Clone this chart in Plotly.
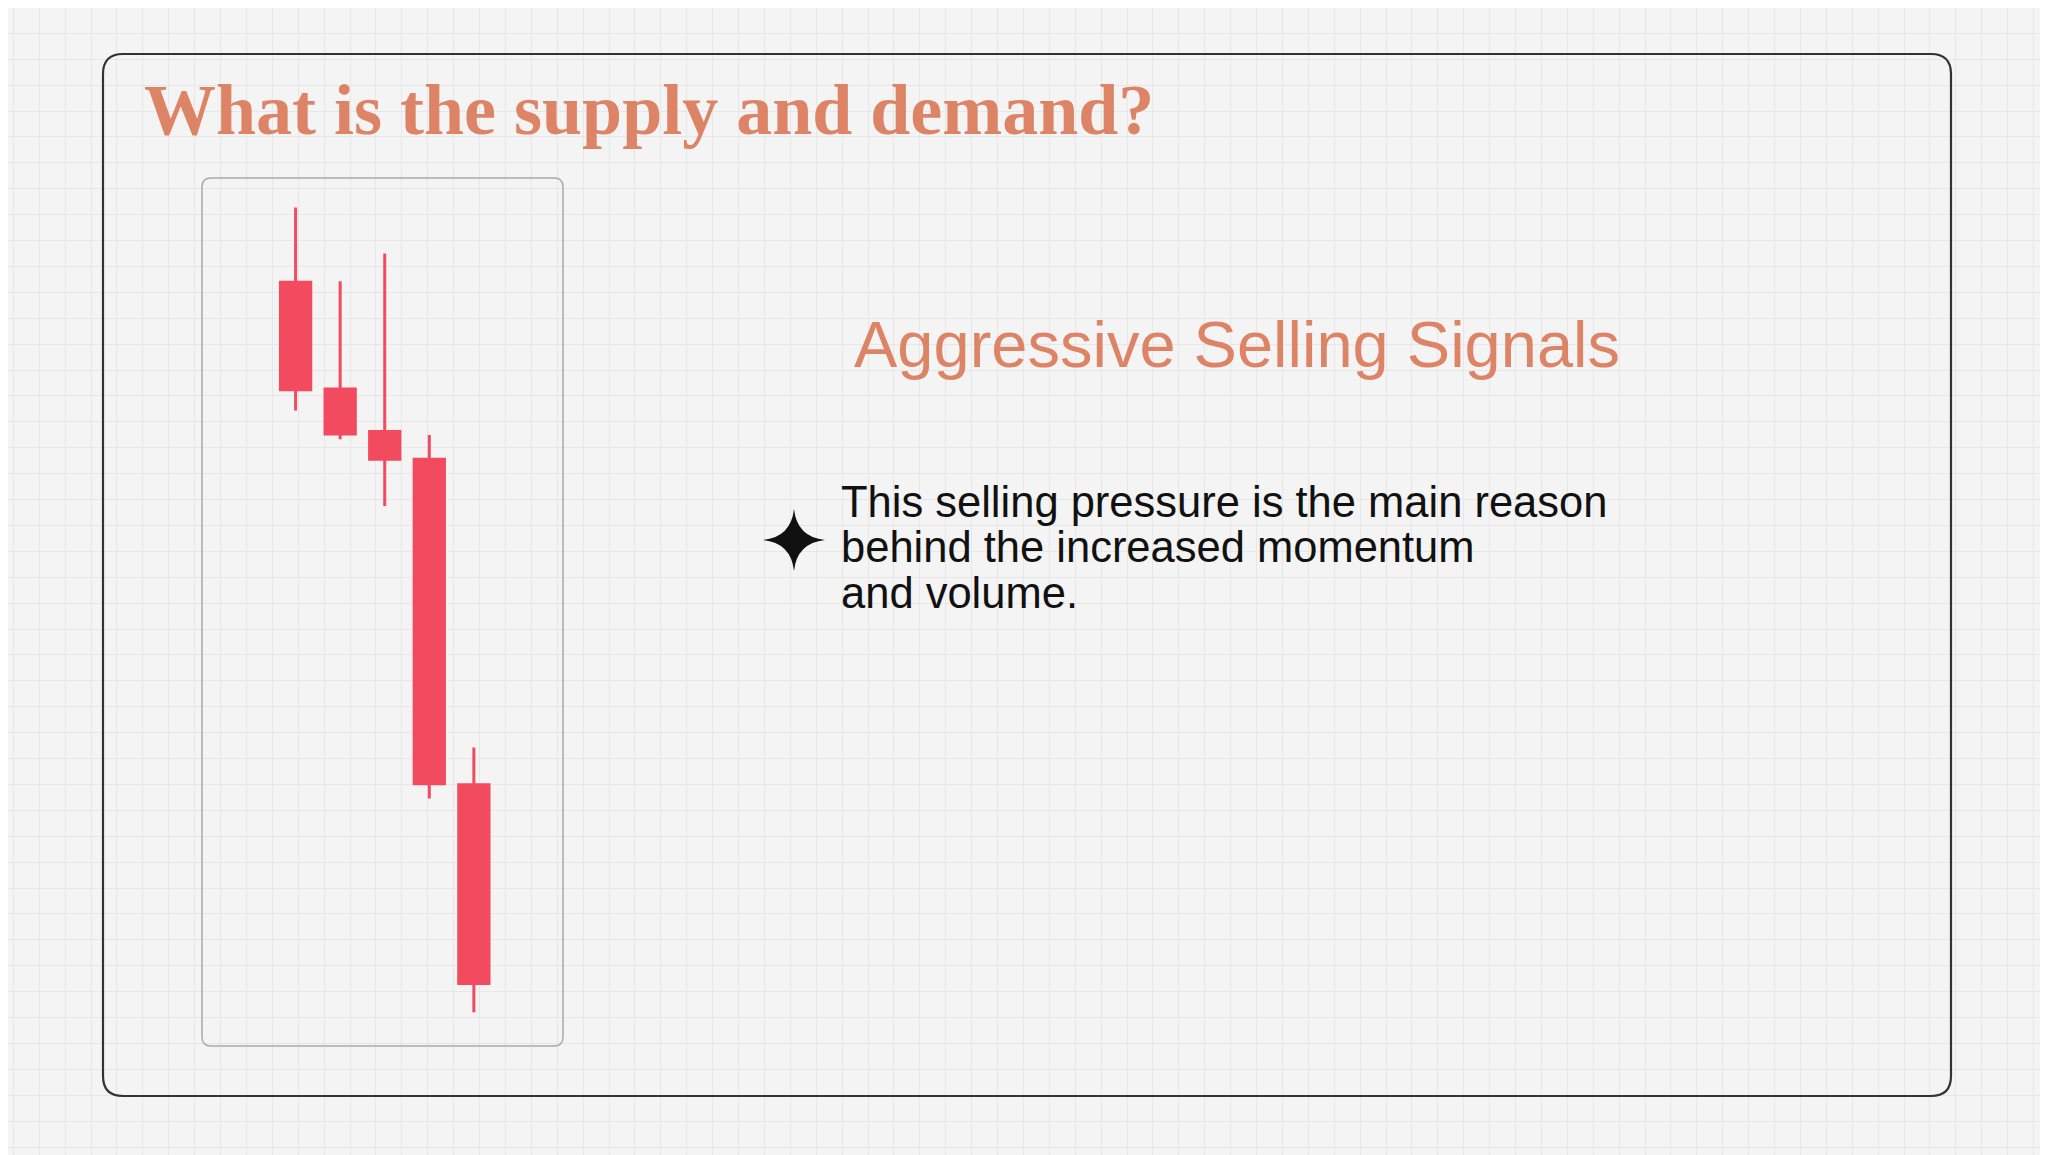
import plotly.graph_objects as go

W, H = 2048, 1155
OFF = 8  # default page margin of the html body
FW, FH = W - OFF, H - OFF

# candles (arbitrary price units, 0-100 over the chart box)
candle_idx = [0, 1, 2, 3, 4]
opens = [88.0, 75.7, 70.8, 67.6, 30.1]
highs = [96.6, 88.1, 91.3, 70.4, 34.4]
lows = [73.2, 69.9, 62.2, 28.5, 3.9]
closes = [75.6, 70.5, 67.6, 30.2, 7.2]

title_text = "What is the supply and demand?"
heading_text = "Aggressive Selling Signals"
body_lines = ["This selling pressure is the main reason",
              "behind the increased momentum",
              "and volume."]

salmon = "#DE8466"
candle_red = "#F24A5E"


def px(x):
    return (x - OFF) / FW


def py(y):
    return 1 - (y - OFF) / FH


def rounded_rect(x0, y0, x1, y1, r):
    # pixel coords (top-left origin) -> paper path
    pts = [
        ("M", x0 + r, y0), ("L", x1 - r, y0), ("Q", x1, y0, x1, y0 + r),
        ("L", x1, y1 - r), ("Q", x1, y1, x1 - r, y1),
        ("L", x0 + r, y1), ("Q", x0, y1, x0, y1 - r),
        ("L", x0, y0 + r), ("Q", x0, y0, x0 + r, y0),
    ]
    out = []
    for p in pts:
        cmd = p[0]
        vals = p[1:]
        coords = []
        for i in range(0, len(vals), 2):
            coords.append("%.5f,%.5f" % (px(vals[i]), py(vals[i + 1])))
        out.append(cmd + " " + " ".join(coords))
    return " ".join(out) + " Z"


def sparkle(cx, cy, r, k):
    pts = [(cx, cy - r), (cx + r, cy), (cx, cy + r), (cx - r, cy)]
    ctrl = [(cx + k, cy - k), (cx + k, cy + k), (cx - k, cy + k), (cx - k, cy - k)]
    s = "M %.5f,%.5f" % (px(pts[0][0]), py(pts[0][1]))
    for i in range(4):
        c = ctrl[i]
        e = pts[(i + 1) % 4]
        s += " Q %.5f,%.5f %.5f,%.5f" % (px(c[0]), py(c[1]), px(e[0]), py(e[1]))
    return s + " Z"


fig = go.Figure()

# empty trace so the background grid subplot exists
fig.add_trace(go.Scatter(x=[], y=[], xaxis="x", yaxis="y", showlegend=False, hoverinfo="skip"))

fig.add_trace(go.Candlestick(
    x=candle_idx, open=opens, high=highs, low=lows, close=closes,
    xaxis="x2", yaxis="y2",
    increasing=dict(line=dict(color=candle_red, width=3), fillcolor=candle_red),
    decreasing=dict(line=dict(color=candle_red, width=3), fillcolor=candle_red),
    showlegend=False,
))

shapes = [
    dict(type="path", xref="paper", yref="paper", path=rounded_rect(103, 54, 1951, 1096, 20),
         line=dict(color="#333333", width=2.2)),
    dict(type="path", xref="paper", yref="paper", path=rounded_rect(202, 178, 563, 1046, 9),
         line=dict(color="#a9a9a9", width=1.5)),
    dict(type="path", xref="paper", yref="paper", path=sparkle(794, 540, 31, 3),
         fillcolor="#111111", line=dict(width=0)),
]

annotations = [
    dict(text="<b>" + title_text + "</b>", x=px(142), y=py(110), xref="paper", yref="paper",
         xanchor="left", yanchor="middle", showarrow=False,
         font=dict(family="Liberation Serif", size=72, color=salmon)),
    dict(text=heading_text, x=px(1236.5), y=py(344), xref="paper", yref="paper",
         xanchor="center", yanchor="middle", showarrow=False,
         font=dict(family="Liberation Sans", size=65, color=salmon)),
]
for i, line in enumerate(body_lines):
    annotations.append(dict(
        text=line, x=px(839), y=py(502 + i * 45.3), xref="paper", yref="paper",
        xanchor="left", yanchor="middle", showarrow=False,
        font=dict(family="Liberation Sans", size=43.5, color="#111111")))

fig.update_layout(
    width=FW, height=FH,
    margin=dict(l=0, r=0, t=0, b=0),
    paper_bgcolor="#f4f4f4",
    plot_bgcolor="rgba(0,0,0,0)",
    boxgap=0.32, boxgroupgap=0,
    xaxis=dict(domain=[0, 1], range=[OFF, W], tick0=13.3, dtick=25.9, showgrid=True,
               gridcolor="#e7e7e7", gridwidth=1, zeroline=False, showticklabels=False,
               ticks="", showline=False, fixedrange=True),
    yaxis=dict(domain=[0, 1], range=[H, OFF], tick0=7.4, dtick=25.9, showgrid=True,
               gridcolor="#e7e7e7", gridwidth=1, zeroline=False, showticklabels=False,
               ticks="", showline=False, fixedrange=True),
    xaxis2=dict(domain=[px(202), px(563)], anchor="y2", range=[-2.1, 6.0], visible=False,
                rangeslider=dict(visible=False), fixedrange=True),
    yaxis2=dict(domain=[py(1046), py(178)], anchor="x2", range=[0, 100], visible=False,
                fixedrange=True),
    shapes=shapes,
    annotations=annotations,
)

fig.write_html("out.html")
